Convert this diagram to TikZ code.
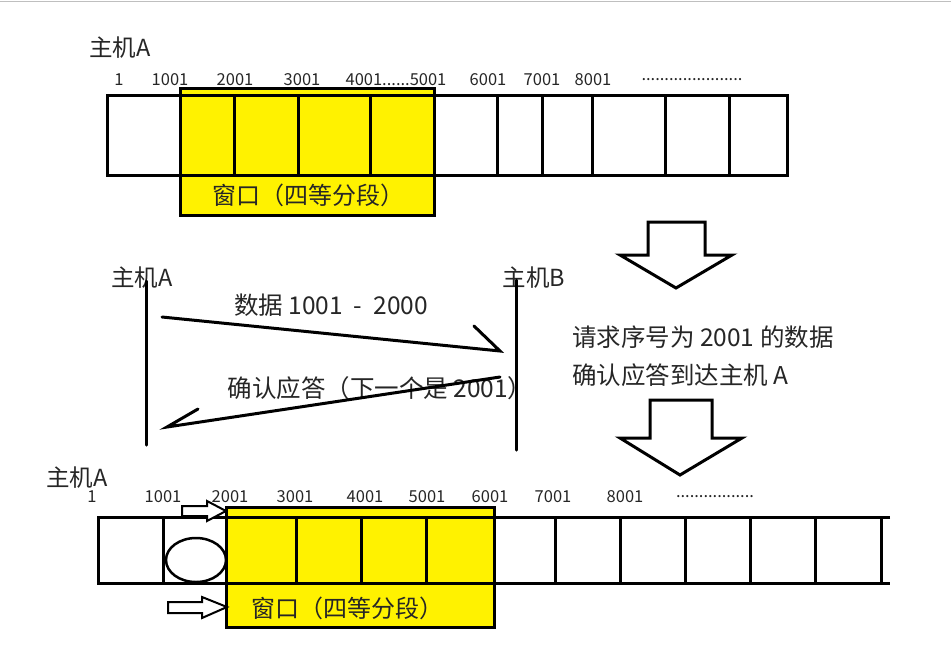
\documentclass[tikz,border=0pt]{standalone}
\usepackage{fontspec}
\setmainfont{Noto Sans CJK SC}
\begin{document}
\begin{tikzpicture}[x=1pt,y=-1pt,line join=miter]
\useasboundingbox (0,0) rectangle (951,657);
\definecolor{win}{RGB}{255,242,0}
\tikzset{
  cell/.style={line width=3pt},
  hand/.style={line width=3pt,line cap=round},
  blockarrow/.style={line width=3pt,fill=white},
  smallarrow/.style={line width=2pt,fill=white},
  num/.style={font=\fontsize{16.5}{17}\selectfont,inner sep=0pt,text=black!85},
  host/.style={font=\fontsize{23.5}{25}\selectfont,inner sep=0pt,text=black!85},
  big/.style={font=\fontsize{24}{26}\selectfont,inner sep=0pt,text=black!85},
  msg/.style={font=\fontsize{24.5}{27}\selectfont,inner sep=0pt,text=black!85}
}
% top gray rule
\draw[black!25,line width=1pt] (0,1.5) -- (951,1.5);

% ---------------- top strip ----------------
\node[host] (hostA1) at (120,48) {主机A};
\fill[win] (180,88) rectangle (434,215);
\draw[cell] (107,95) rectangle (787,175);
\foreach \x in {234,298,370,497,542,592,665,729} \draw[cell] (\x,95) -- (\x,175);
\draw[cell] (180,88) rectangle (434,215);
\node[big] (win1) at (308,195) {窗口（四等分段）};

\node[num] (t1) at (119,80) {1};
\node[num] (t1001) at (170,80) {1001};
\node[num] (t2001) at (235,80) {2001};
\node[num] (t3001) at (302,80) {3001};
\node[num] (t4001) at (396,80) {4001......5001};
\node[num] (t6001) at (488,80) {6001};
\node[num] (t7001) at (542,80) {7001};
\node[num] (t8001) at (593,80) {8001};
\node[num] (tdots) at (692,80) {......................};

% ---------------- middle exchange ----------------
\node[host] (hostA2) at (142,278) {主机A};
\node[host] (hostB) at (534,278) {主机B};
\coordinate (lA1) at (146,281);
\coordinate (lA2) at (146,445);
\coordinate (lB1) at (516,280);
\coordinate (lB2) at (516,450);
\draw[hand] (lA1) -- (lA2);
\draw[hand] (lB1) -- (lB2);

\node[msg] (m1) at (331,305) {数据 1001\hspace{0.45em}-\hspace{0.45em}2000};
\node[msg] (m2) at (380,388) {确认应答（下一个是 2001）};

\coordinate (s1) at (162,317);
\coordinate (e1) at (500,351);
\coordinate (b1) at (474,326);
\draw[hand] (s1) -- (e1) -- (b1);

\coordinate (s2) at (500,377);
\coordinate (e2) at (167,427);
\coordinate (b2) at (198,409);
\draw[hand] (s2) -- (e2) -- (b2);

% ---------------- right side ----------------
\draw[blockarrow] (648,222) -- (705,222) -- (705,255) -- (732,255) -- (676,288) -- (620,255) -- (648,255) -- cycle;
\node[msg,anchor=west] (r1) at (572,337) {请求序号为 2001 的数据};
\node[msg,anchor=west] (r2) at (572,375) {确认应答到达主机 A};
\draw[blockarrow] (650,400) -- (712,400) -- (712,438) -- (742,438) -- (680,475) -- (620,438) -- (650,438) -- cycle;

% ---------------- bottom strip ----------------
\node[host] (hostA3) at (77,478) {主机A};
\fill[win] (226,507) rectangle (494,627);
\draw[cell] (890,517) -- (98,517) -- (98,583) -- (890,583);
\foreach \x in {163,296,361,426,555,620,685,750,815,881} \draw[cell] (\x,517) -- (\x,583);
\draw[cell] (226,507) rectangle (494,627);
\node[big] (win2) at (347,608) {窗口（四等分段）};
\draw[line width=2.5pt] (196,560) ellipse [x radius=30, y radius=22];

\draw[smallarrow] (182,506) -- (207,506) -- (207,501) -- (226,511) -- (207,521) -- (207,516) -- (182,516) -- cycle;
\draw[smallarrow] (168,602) -- (202,602) -- (202,597) -- (227,607) -- (202,618) -- (202,613) -- (168,613) -- cycle;

\node[num] (u1) at (92,497) {1};
\node[num] (u1001) at (163,497) {1001};
\node[num] (u2001) at (230,497) {2001};
\node[num] (u3001) at (295,497) {3001};
\node[num] (u4001) at (365,497) {4001};
\node[num] (u5001) at (427,497) {5001};
\node[num] (u6001) at (490,497) {6001};
\node[num] (u7001) at (553,497) {7001};
\node[num] (u8001) at (625,497) {8001};
\node[num] (udots) at (715,497) {.................};
\end{tikzpicture}
\end{document}
